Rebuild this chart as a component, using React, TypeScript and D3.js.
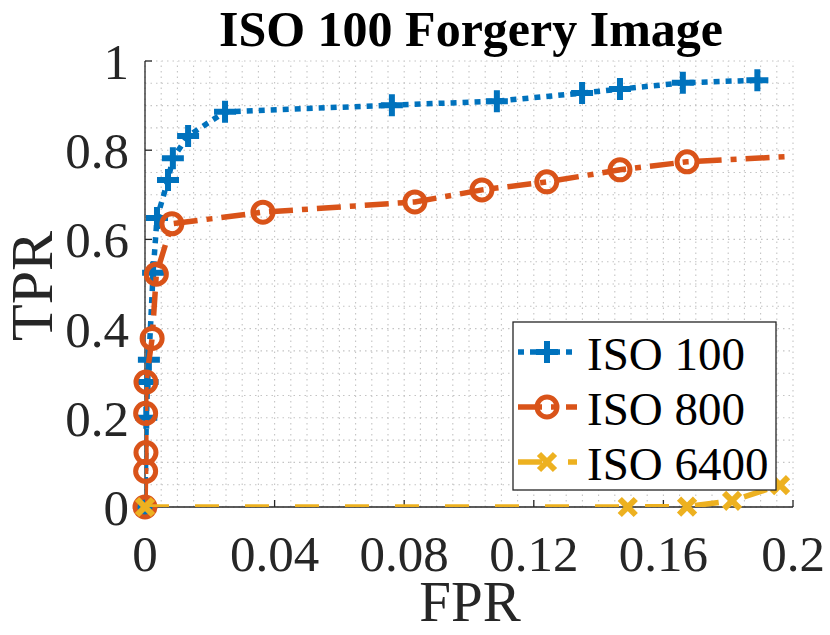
import * as d3 from 'd3'

const W = 830
const H = 635
const margin = { left: 145, right: 37, top: 61, bottom: 128 }

const title = 'ISO 100 Forgery Image'
const xLabel = 'FPR'
const yLabel = 'TPR'

const xTicks = [0, 0.04, 0.08, 0.12, 0.16, 0.2]
const yTicks = [0, 0.2, 0.4, 0.6, 0.8, 1]

// ISO 100
const iso100Fpr = [0, 0.0004, 0.0008, 0.0012, 0.0025, 0.0037, 0.0071, 0.0086, 0.0133, 0.0247, 0.0762, 0.1086, 0.1349, 0.1466, 0.166, 0.189]
const iso100Tpr = [0, 0.2, 0.28, 0.33, 0.525, 0.648, 0.733, 0.782, 0.832, 0.886, 0.901, 0.91, 0.928, 0.937, 0.951, 0.957]
// ISO 800
const iso800Fpr = [0, 0.0002, 0.0003, 0.0002, 0.0003, 0.0022, 0.0035, 0.0083, 0.0364, 0.0833, 0.104, 0.124, 0.1466, 0.1673, 0.21]
const iso800Tpr = [0, 0.08, 0.122, 0.21, 0.28, 0.378, 0.522, 0.635, 0.661, 0.684, 0.711, 0.729, 0.756, 0.774, 0.79]
// ISO 6400
const iso6400Fpr = [0, 0.149, 0.1673, 0.1812, 0.196]
const iso6400Tpr = [0, 0, 0.001, 0.014, 0.049]

const series = [
  { name: 'ISO 100', fpr: iso100Fpr, tpr: iso100Tpr, color: '#0072BD', dash: '6 6', marker: 'plus' },
  { name: 'ISO 800', fpr: iso800Fpr, tpr: iso800Tpr, color: '#D95319', dash: '24 9 6 9', marker: 'circle' },
  { name: 'ISO 6400', fpr: iso6400Fpr, tpr: iso6400Tpr, color: '#EDB120', dash: '24 26', marker: 'cross' },
]

const serif = { fontFamily: "'Liberation Serif', 'DejaVu Serif', serif" }
const axisColor = '#262626'

function Marker({ type, x, y, color }: { type: string; x: number; y: number; color: string }) {
  if (type === 'plus') {
    return (
      <path d={`M${x - 11},${y}H${x + 11}M${x},${y - 11}V${y + 11}`} stroke={color} strokeWidth={6} fill="none" />
    )
  }
  if (type === 'circle') {
    return <circle cx={x} cy={y} r={10} stroke={color} strokeWidth={5} fill="none" />
  }
  return (
    <path
      d={`M${x - 8},${y - 8}L${x + 8},${y + 8}M${x - 8},${y + 8}L${x + 8},${y - 8}`}
      stroke={color}
      strokeWidth={6}
      fill="none"
    />
  )
}

export default function App() {
  const x = d3.scaleLinear().domain([0, 0.2]).range([margin.left, W - margin.right])
  const y = d3.scaleLinear().domain([0, 1]).range([H - margin.bottom, margin.top])
  const [x0, x1] = x.range()
  const [y0, y1] = y.range()

  const line = d3
    .line<[number, number]>()
    .x((d) => x(d[0]))
    .y((d) => y(d[1]))

  const gridX = d3.range(0, 0.2 + 1e-9, 0.005)
  const gridY = d3.range(0, 1 + 1e-9, 0.05)

  // legend
  const lg = { x: 513, y: 322, w: 263, h: 168, row: 55 }

  return (
    <svg width={W} height={H} style={{ position: 'absolute', left: 0, top: 0, background: '#fff' }}>
      <defs>
        <clipPath id="plot">
          <rect x={x0} y={y1} width={x1 - x0} height={y0 - y1} />
        </clipPath>
      </defs>

      {/* grid */}
      <g stroke="#c4c4c4" strokeWidth={1.1} strokeDasharray="1.5 4">
        {gridX.map((v) => (
          <line key={'gx' + v} x1={x(v)} x2={x(v)} y1={y0} y2={y1} />
        ))}
        {gridY.map((v) => (
          <line key={'gy' + v} x1={x0} x2={x1} y1={y(v)} y2={y(v)} />
        ))}
      </g>

      {/* axes */}
      <g stroke={axisColor} strokeWidth={1.3}>
        <line x1={x0} x2={x1} y1={y0} y2={y0} />
        <line x1={x0} x2={x0} y1={y0} y2={y1} />
        {xTicks.map((v) => (
          <line key={'tx' + v} x1={x(v)} x2={x(v)} y1={y0} y2={y0 - 7} />
        ))}
        {yTicks.map((v) => (
          <line key={'ty' + v} x1={x0} x2={x0 + 7} y1={y(v)} y2={y(v)} />
        ))}
      </g>

      <g style={serif} fontSize={51} fill={axisColor}>
        {xTicks.map((v) => (
          <text key={'lx' + v} x={x(v)} y={y0 + 64} textAnchor="middle">
            {d3.format('~g')(v)}
          </text>
        ))}
        {yTicks.map((v) => (
          <text key={'ly' + v} x={x0 - 16} y={y(v) + 18} textAnchor="end">
            {d3.format('~g')(v)}
          </text>
        ))}
      </g>

      <text x={470} y={621} textAnchor="middle" style={serif} fontSize={57} fill={axisColor}>
        {xLabel}
      </text>
      <text transform={`translate(52,286) rotate(-90)`} textAnchor="middle" style={serif} fontSize={60} fill={axisColor}>
        {yLabel}
      </text>
      <text x={471} y={46} textAnchor="middle" style={serif} fontSize={50} fontWeight="bold" fill="#000">
        {title}
      </text>

      {/* series: lines clipped, markers drawn only inside the domain */}
      {series.map((s) => {
        const pts = s.fpr.map((f, i) => [f, s.tpr[i]] as [number, number])
        return (
          <g key={s.name}>
            <path
              clipPath="url(#plot)"
              d={line(pts) ?? ''}
              fill="none"
              stroke={s.color}
              strokeWidth={5.5}
              strokeDasharray={s.dash}
            />
            {pts
              .filter((p) => p[0] <= 0.2)
              .map((p, i) => (
                <Marker key={i} type={s.marker} x={x(p[0])} y={y(p[1])} color={s.color} />
              ))}
          </g>
        )
      })}

      {/* legend */}
      <rect x={lg.x} y={lg.y} width={lg.w} height={lg.h} fill="#fff" stroke={axisColor} strokeWidth={1.3} />
      {series.map((s, i) => {
        const cy = lg.y + 30 + i * lg.row
        return (
          <g key={'lg' + s.name}>
            <line x1={lg.x + 5} x2={lg.x + 64} y1={cy} y2={cy} stroke={s.color} strokeWidth={5.5} strokeDasharray={s.dash} />
            <Marker type={s.marker} x={lg.x + 34} y={cy} color={s.color} />
            <text x={lg.x + 74} y={cy + 18} style={serif} fontSize={47} fill="#000">
              {s.name}
            </text>
          </g>
        )
      })}
    </svg>
  )
}
